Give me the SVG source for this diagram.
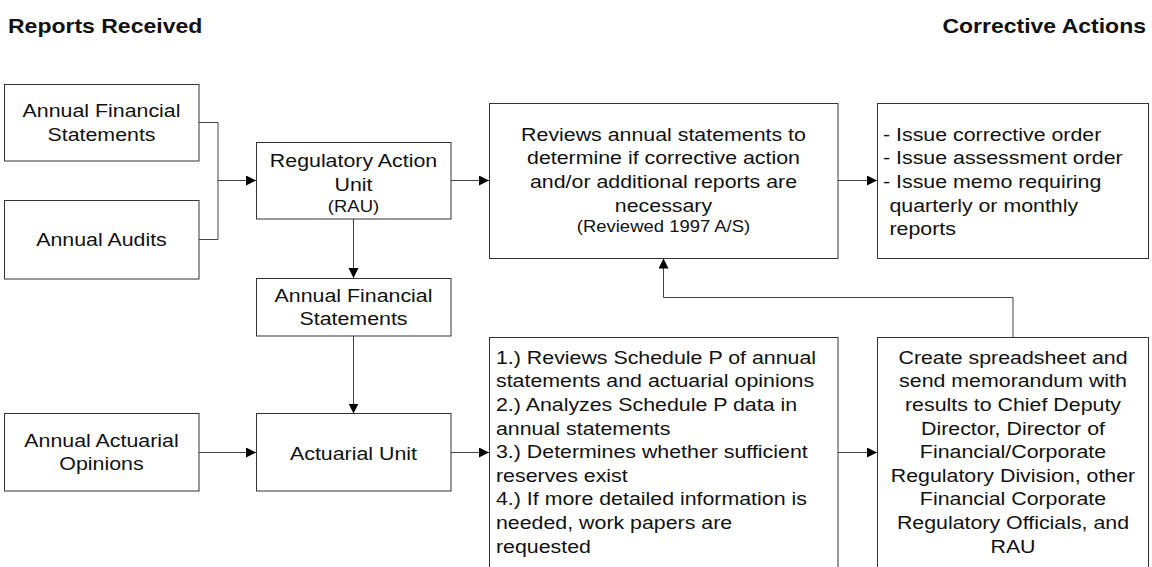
<svg xmlns="http://www.w3.org/2000/svg" width="1152" height="567" viewBox="0 0 1152 567">
<style>
.box{fill:#fff;stroke:#333;stroke-width:1}
.t{font-family:"Liberation Sans",Arial,sans-serif;font-size:18.5px;fill:#111;text-anchor:middle}
.l{text-anchor:start}
.s{font-size:16px}
.h{font-family:"Liberation Sans",Arial,sans-serif;font-size:20px;font-weight:bold;fill:#111}
.c{fill:none;stroke:#444;stroke-width:1}
</style>
<defs>
<marker id="ah" markerUnits="userSpaceOnUse" markerWidth="11" markerHeight="11" refX="10" refY="5" orient="auto">
<path d="M0,0 L10,5 L0,10 z" fill="#000"/>
</marker>
</defs>
<rect width="1152" height="567" fill="#fff"/>
<g id="headers">
<text class="h" transform="matrix(1.15 0 0 1 8 33)">Reports Received</text>
<text class="h" text-anchor="end" transform="matrix(1.15 0 0 1 1146 33)">Corrective Actions</text>
</g>
<g id="connectors">
<path class="c" d="M199,122.5 H218 V239.5 H199"/>
<path class="c" d="M218,180.5 H256" marker-end="url(#ah)"/>
<path class="c" d="M353.5,219 V278" marker-end="url(#ah)"/>
<path class="c" d="M353.5,336 V413.5" marker-end="url(#ah)"/>
<path class="c" d="M199,452.5 H256" marker-end="url(#ah)"/>
<path class="c" d="M451,180.5 H489" marker-end="url(#ah)"/>
<path class="c" d="M838,180.5 H877" marker-end="url(#ah)"/>
<path class="c" d="M451,452.5 H489" marker-end="url(#ah)"/>
<path class="c" d="M838,452.5 H877" marker-end="url(#ah)"/>
<path class="c" d="M1013,337 V297.5 H663.5 V258.5" marker-end="url(#ah)"/>
</g>
<g id="afs1">
<rect class="box" x="4.5" y="84.5" width="194.5" height="76.5"/>
<text class="t" transform="matrix(1.155 0 0 1 101.5 117.3)">Annual Financial</text>
<text class="t" transform="matrix(1.155 0 0 1 101.5 141)">Statements</text>
</g>
<g id="audits">
<rect class="box" x="4.5" y="200.5" width="194.5" height="78.5"/>
<text class="t" transform="matrix(1.155 0 0 1 101.5 245.7)">Annual Audits</text>
</g>
<g id="aao">
<rect class="box" x="4.5" y="413.5" width="194.5" height="77.5"/>
<text class="t" transform="matrix(1.155 0 0 1 101.5 446.5)">Annual Actuarial</text>
<text class="t" transform="matrix(1.155 0 0 1 101.5 470)">Opinions</text>
</g>
<g id="rau">
<rect class="box" x="256.5" y="142.5" width="194.5" height="76.5"/>
<text class="t" transform="matrix(1.155 0 0 1 353.5 167)">Regulatory Action</text>
<text class="t" transform="matrix(1.155 0 0 1 353.5 190.5)">Unit</text>
<text class="t s" transform="matrix(1.155 0 0 1 353.5 212)">(RAU)</text>
</g>
<g id="afs2">
<rect class="box" x="256.5" y="278.5" width="194.5" height="57.5"/>
<text class="t" transform="matrix(1.155 0 0 1 353.5 301.7)">Annual Financial</text>
<text class="t" transform="matrix(1.155 0 0 1 353.5 325)">Statements</text>
</g>
<g id="au">
<rect class="box" x="256.5" y="413.5" width="194.5" height="77.5"/>
<text class="t" transform="matrix(1.155 0 0 1 353.5 459.5)">Actuarial Unit</text>
</g>
<g id="review">
<rect class="box" x="489.5" y="103.5" width="348.5" height="155"/>
<text class="t" transform="matrix(1.155 0 0 1 663.5 140.7)">Reviews annual statements to</text>
<text class="t" transform="matrix(1.155 0 0 1 663.5 164.4)">determine if corrective action</text>
<text class="t" transform="matrix(1.155 0 0 1 663.5 188)">and/or additional reports are</text>
<text class="t" transform="matrix(1.155 0 0 1 663.5 211.7)">necessary</text>
<text class="t s" transform="matrix(1.155 0 0 1 663.5 232)">(Reviewed 1997 A/S)</text>
</g>
<g id="corrective">
<rect class="box" x="877.5" y="103.5" width="271" height="155"/>
<text class="t l" transform="matrix(1.155 0 0 1 883 140.7)">- Issue corrective order</text>
<text class="t l" transform="matrix(1.155 0 0 1 883 164.4)">- Issue assessment order</text>
<text class="t l" transform="matrix(1.155 0 0 1 883 188)">- Issue memo requiring</text>
<text class="t l" transform="matrix(1.155 0 0 1 889.5 211.7)">quarterly or monthly</text>
<text class="t l" transform="matrix(1.155 0 0 1 889.5 235.4)">reports</text>
</g>
<g id="steps">
<rect class="box" x="489.5" y="337.5" width="348.5" height="240"/>
<text class="t l" transform="matrix(1.155 0 0 1 496 363.5)">1.) Reviews Schedule P of annual</text>
<text class="t l" transform="matrix(1.155 0 0 1 496 387.2)">statements and actuarial opinions</text>
<text class="t l" transform="matrix(1.155 0 0 1 496 410.8)">2.) Analyzes Schedule P data in</text>
<text class="t l" transform="matrix(1.155 0 0 1 496 434.5)">annual statements</text>
<text class="t l" transform="matrix(1.155 0 0 1 496 458.1)">3.) Determines whether sufficient</text>
<text class="t l" transform="matrix(1.155 0 0 1 496 481.8)">reserves exist</text>
<text class="t l" transform="matrix(1.155 0 0 1 496 505.4)">4.) If more detailed information is</text>
<text class="t l" transform="matrix(1.155 0 0 1 496 529.1)">needed, work papers are</text>
<text class="t l" transform="matrix(1.155 0 0 1 496 552.7)">requested</text>
</g>
<g id="create">
<rect class="box" x="877.5" y="337.5" width="271" height="240"/>
<text class="t" transform="matrix(1.155 0 0 1 1013 363.5)">Create spreadsheet and</text>
<text class="t" transform="matrix(1.155 0 0 1 1013 387.2)">send memorandum with</text>
<text class="t" transform="matrix(1.155 0 0 1 1013 410.8)">results to Chief Deputy</text>
<text class="t" transform="matrix(1.155 0 0 1 1013 434.5)">Director, Director of</text>
<text class="t" transform="matrix(1.155 0 0 1 1013 458.1)">Financial/Corporate</text>
<text class="t" transform="matrix(1.155 0 0 1 1013 481.8)">Regulatory Division, other</text>
<text class="t" transform="matrix(1.155 0 0 1 1013 505.4)">Financial Corporate</text>
<text class="t" transform="matrix(1.155 0 0 1 1013 529.1)">Regulatory Officials, and</text>
<text class="t" transform="matrix(1.155 0 0 1 1013 552.7)">RAU</text>
</g>
</svg>
